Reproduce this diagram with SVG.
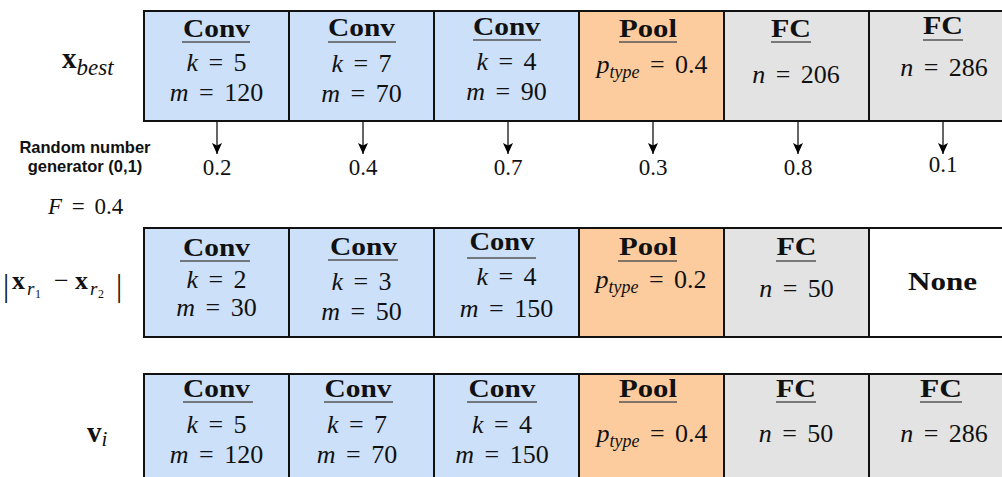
<svg xmlns="http://www.w3.org/2000/svg" width="1002" height="477" viewBox="0 0 1002 477">
<style>
text { font-family: "Liberation Serif", "DejaVu Serif", serif; fill: #111; }
.h { font-weight: bold; font-size: 25px; text-anchor: middle; }
.m { font-size: 26px; text-anchor: middle; word-spacing: 4px; }
.i { font-style: italic; }
.val { font-size: 23px; text-anchor: middle; }
.ul { stroke: #555; stroke-width: 1.4; }
.cell { stroke: #111; stroke-width: 2; }
.conv { fill: #cce0fa; }
.pool { fill: #fdcc9e; }
.fc { fill: #e3e3e3; }
.none { fill: #ffffff; }
.sans { font-family: "Liberation Sans", Arial, sans-serif; font-weight: bold; font-size: 16.5px; text-anchor: middle; }
.arr { stroke: #333; stroke-width: 1.5; fill: none; }
</style>
<defs>
<marker id="ah" markerUnits="userSpaceOnUse" markerWidth="12" markerHeight="12" refX="11" refY="5" orient="auto">
<path d="M0,0 L11,5 L0,10 L2.5,5 Z" fill="#000"/>
</marker>
</defs>
<rect x="0" y="0" width="1002" height="477" fill="#fff"/>

<!-- left labels -->
<g id="label-xbest">
<text x="62" y="68"><tspan font-weight="bold" font-size="29">x</tspan><tspan class="i" font-size="23" dy="7">best</tspan></text>
</g>
<g id="label-rng">
<text class="sans" x="85" y="153">Random number</text>
<text class="sans" x="85" y="172">generator (0,1)</text>
</g>
<g id="label-F">
<text x="48" y="214" font-size="23" word-spacing="4"><tspan class="i">F</tspan> = 0.4</text>
</g>
<g id="label-diff">
<text font-size="26">
<tspan x="3" y="296" font-size="31">|</tspan><tspan x="12" y="289" font-weight="bold">x</tspan><tspan x="27" y="295" class="i" font-size="19">r</tspan><tspan x="35" y="298" font-size="12">1</tspan><tspan x="54" y="289">−</tspan><tspan x="75" y="289" font-weight="bold">x</tspan><tspan x="90" y="295" class="i" font-size="19">r</tspan><tspan x="98" y="298" font-size="12">2</tspan><tspan x="116" y="296" font-size="31">|</tspan>
</text>
</g>
<g id="label-vi">
<text x="87" y="442"><tspan font-weight="bold" font-size="29">v</tspan><tspan class="i" font-size="21" dy="4">i</tspan></text>
</g>

<!-- Row 1: x_best -->
<g id="r1c1">
<rect class="cell conv" x="144" y="11" width="145" height="110"/>
<text class="h" x="216.5" y="37" textLength="67" lengthAdjust="spacingAndGlyphs">Conv</text>
<line class="ul" x1="182" y1="42" x2="250" y2="42"/>
<text class="m" x="216.5" y="71"><tspan class="i">k</tspan> = 5</text>
<text class="m" x="216.5" y="101"><tspan class="i">m</tspan> = 120</text>
</g>
<g id="r1c2">
<rect class="cell conv" x="289" y="11" width="145" height="110"/>
<text class="h" x="361.5" y="36" textLength="67" lengthAdjust="spacingAndGlyphs">Conv</text>
<line class="ul" x1="328" y1="42" x2="396" y2="42"/>
<text class="m" x="361.5" y="72"><tspan class="i">k</tspan> = 7</text>
<text class="m" x="361.5" y="102"><tspan class="i">m</tspan> = 70</text>
</g>
<g id="r1c3">
<rect class="cell conv" x="434" y="11" width="145" height="110"/>
<text class="h" x="506.5" y="35" textLength="67" lengthAdjust="spacingAndGlyphs">Conv</text>
<line class="ul" x1="473" y1="40" x2="541" y2="40"/>
<text class="m" x="506.5" y="70"><tspan class="i">k</tspan> = 4</text>
<text class="m" x="506.5" y="100"><tspan class="i">m</tspan> = 90</text>
</g>
<g id="r1c4">
<rect class="cell pool" x="579" y="11" width="145" height="110"/>
<text class="h" x="648" y="37" textLength="58" lengthAdjust="spacingAndGlyphs">Pool</text>
<line class="ul" x1="619" y1="42" x2="677" y2="42"/>
<text class="m" x="652" y="73"><tspan class="i">p</tspan><tspan class="i" font-size="18" dy="5">type</tspan><tspan dy="-5"> = 0.4</tspan></text>
</g>
<g id="r1c5">
<rect class="cell fc" x="724" y="11" width="145" height="110"/>
<text class="h" x="791" y="37" textLength="40" lengthAdjust="spacingAndGlyphs">FC</text>
<line class="ul" x1="771" y1="42" x2="811" y2="42"/>
<text class="m" x="796" y="83"><tspan class="i">n</tspan> = 206</text>
</g>
<g id="r1c6">
<rect class="cell fc" x="869" y="11" width="145" height="110"/>
<text class="h" x="943" y="34" textLength="40" lengthAdjust="spacingAndGlyphs">FC</text>
<line class="ul" x1="923" y1="40" x2="963" y2="40"/>
<text class="m" x="944" y="76"><tspan class="i">n</tspan> = 286</text>
</g>

<!-- random values -->
<g id="rand-values">
<text class="val" x="217" y="175">0.2</text>
<text class="val" x="363" y="175">0.4</text>
<text class="val" x="508" y="175">0.7</text>
<text class="val" x="653" y="175">0.3</text>
<text class="val" x="798" y="175">0.8</text>
<text class="val" x="943" y="172">0.1</text>
</g>

<!-- Row 2: |x_r1 - x_r2| -->
<g id="r2c1">
<rect class="cell conv" x="144" y="228" width="145" height="109"/>
<text class="h" x="216.5" y="256" textLength="67" lengthAdjust="spacingAndGlyphs">Conv</text>
<line class="ul" x1="180" y1="261" x2="250" y2="261"/>
<text class="m" x="216.5" y="288"><tspan class="i">k</tspan> = 2</text>
<text class="m" x="216.5" y="316"><tspan class="i">m</tspan> = 30</text>
</g>
<g id="r2c2">
<rect class="cell conv" x="289" y="228" width="145" height="109"/>
<text class="h" x="363.5" y="255" textLength="67" lengthAdjust="spacingAndGlyphs">Conv</text>
<line class="ul" x1="328" y1="260" x2="398" y2="260"/>
<text class="m" x="361.5" y="290"><tspan class="i">k</tspan> = 3</text>
<text class="m" x="361.5" y="320"><tspan class="i">m</tspan> = 50</text>
</g>
<g id="r2c3">
<rect class="cell conv" x="434" y="228" width="145" height="109"/>
<text class="h" x="502" y="250" textLength="65" lengthAdjust="spacingAndGlyphs">Conv</text>
<line class="ul" x1="467" y1="258" x2="536" y2="258"/>
<text class="m" x="506.5" y="285"><tspan class="i">k</tspan> = 4</text>
<text class="m" x="506.5" y="317"><tspan class="i">m</tspan> = 150</text>
</g>
<g id="r2c4">
<rect class="cell pool" x="579" y="228" width="145" height="109"/>
<text class="h" x="648" y="255" textLength="58" lengthAdjust="spacingAndGlyphs">Pool</text>
<line class="ul" x1="618" y1="261" x2="677" y2="261"/>
<text class="m" x="651" y="288"><tspan class="i">p</tspan><tspan class="i" font-size="18" dy="5">type</tspan><tspan dy="-5"> = 0.2</tspan></text>
</g>
<g id="r2c5">
<rect class="cell fc" x="724" y="228" width="145" height="109"/>
<text class="h" x="796.5" y="255" textLength="40" lengthAdjust="spacingAndGlyphs">FC</text>
<line class="ul" x1="776" y1="261" x2="816" y2="261"/>
<text class="m" x="796.5" y="297"><tspan class="i">n</tspan> = 50</text>
</g>
<g id="r2c6">
<rect class="cell none" x="869" y="228" width="145" height="109"/>
<text class="h" x="942.5" y="290" textLength="69" lengthAdjust="spacingAndGlyphs">None</text>
</g>

<!-- Row 3: v_i -->
<g id="r3c1">
<rect class="cell conv" x="144" y="374" width="145" height="110"/>
<text class="h" x="216.5" y="397" textLength="67" lengthAdjust="spacingAndGlyphs">Conv</text>
<line class="ul" x1="183" y1="402" x2="253" y2="402"/>
<text class="m" x="216.5" y="433"><tspan class="i">k</tspan> = 5</text>
<text class="m" x="216.5" y="463"><tspan class="i">m</tspan> = 120</text>
</g>
<g id="r3c2">
<rect class="cell conv" x="289" y="374" width="145" height="110"/>
<text class="h" x="358" y="397" textLength="67" lengthAdjust="spacingAndGlyphs">Conv</text>
<line class="ul" x1="324" y1="402" x2="393" y2="402"/>
<text class="m" x="357" y="433"><tspan class="i">k</tspan> = 7</text>
<text class="m" x="357" y="463"><tspan class="i">m</tspan> = 70</text>
</g>
<g id="r3c3">
<rect class="cell conv" x="434" y="374" width="145" height="110"/>
<text class="h" x="502" y="397" textLength="67" lengthAdjust="spacingAndGlyphs">Conv</text>
<line class="ul" x1="467" y1="402" x2="537" y2="402"/>
<text class="m" x="502" y="433"><tspan class="i">k</tspan> = 4</text>
<text class="m" x="502" y="463"><tspan class="i">m</tspan> = 150</text>
</g>
<g id="r3c4">
<rect class="cell pool" x="579" y="374" width="145" height="110"/>
<text class="h" x="648" y="397" textLength="58" lengthAdjust="spacingAndGlyphs">Pool</text>
<line class="ul" x1="619" y1="402" x2="677" y2="402"/>
<text class="m" x="652" y="442"><tspan class="i">p</tspan><tspan class="i" font-size="18" dy="5">type</tspan><tspan dy="-5"> = 0.4</tspan></text>
</g>
<g id="r3c5">
<rect class="cell fc" x="724" y="374" width="145" height="110"/>
<text class="h" x="796" y="397" textLength="40" lengthAdjust="spacingAndGlyphs">FC</text>
<line class="ul" x1="776" y1="402" x2="816" y2="402"/>
<text class="m" x="796" y="442"><tspan class="i">n</tspan> = 50</text>
</g>
<g id="r3c6">
<rect class="cell fc" x="869" y="374" width="145" height="110"/>
<text class="h" x="941" y="397" textLength="42" lengthAdjust="spacingAndGlyphs">FC</text>
<line class="ul" x1="920" y1="402" x2="962" y2="402"/>
<text class="m" x="944" y="442"><tspan class="i">n</tspan> = 286</text>
</g>

<!-- connectors -->
<g id="connectors">
<line class="arr" x1="217" y1="122" x2="217" y2="154" marker-end="url(#ah)"/>
<line class="arr" x1="363" y1="122" x2="363" y2="154" marker-end="url(#ah)"/>
<line class="arr" x1="508" y1="122" x2="508" y2="154" marker-end="url(#ah)"/>
<line class="arr" x1="653" y1="122" x2="653" y2="154" marker-end="url(#ah)"/>
<line class="arr" x1="798" y1="122" x2="798" y2="154" marker-end="url(#ah)"/>
<line class="arr" x1="943" y1="122" x2="943" y2="154" marker-end="url(#ah)"/>
</g>
</svg>
